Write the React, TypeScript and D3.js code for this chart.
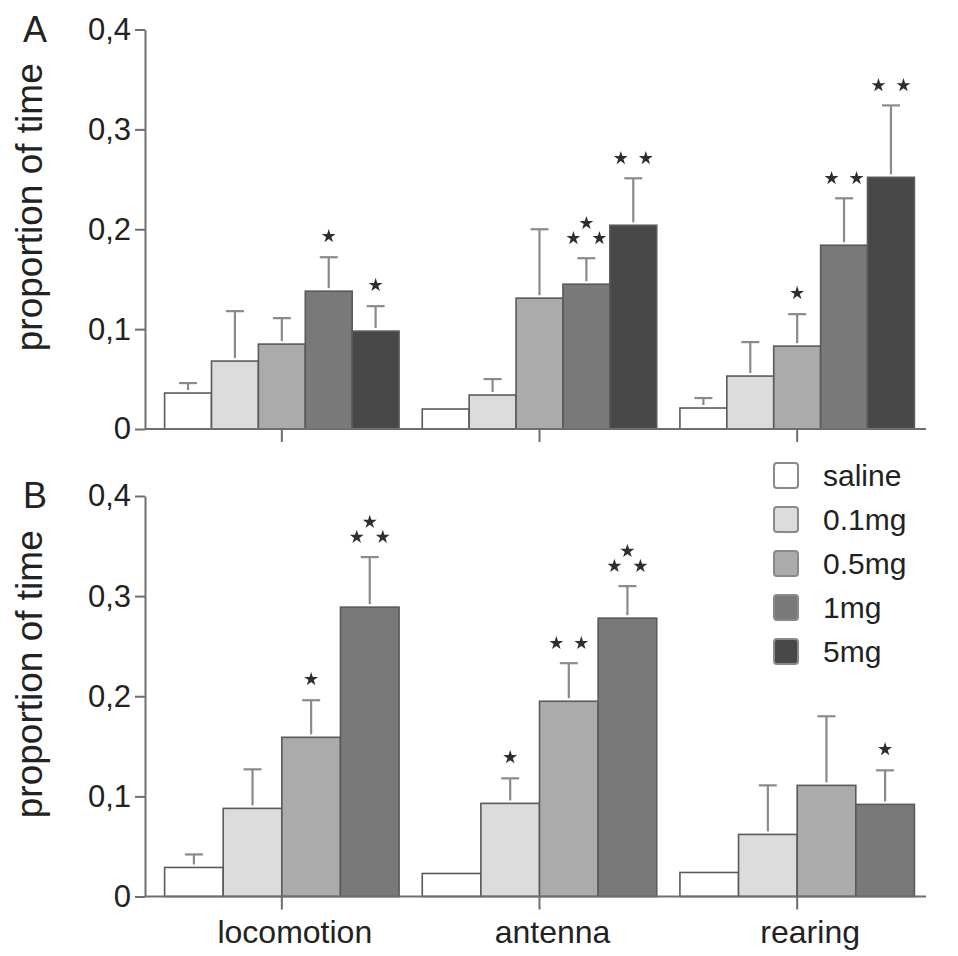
import { useEffect, useRef } from 'react';
import * as d3 from 'd3';

// categories and dose groups
const categories = ['locomotion', 'antenna', 'rearing'];
const dosesA = ['saline', '0.1mg', '0.5mg', '1mg', '5mg'];
const dosesB = ['saline', '0.1mg', '0.5mg', '1mg'];
const legendLabels = ['saline', '0.1mg', '0.5mg', '1mg', '5mg'];
const yTicks = [0, 0.1, 0.2, 0.3, 0.4];

// panel A: means per dose (locomotion, antenna, rearing)
const aSaline = [0.036, 0.020, 0.021];
const a01 = [0.068, 0.034, 0.053];
const a05 = [0.085, 0.131, 0.083];
const a1 = [0.138, 0.145, 0.184];
const a5 = [0.098, 0.204, 0.252];
// panel A: error (SEM)
const aSalineErr = [0.010, 0, 0.010];
const a01Err = [0.050, 0.016, 0.034];
const a05Err = [0.026, 0.069, 0.032];
const a1Err = [0.034, 0.026, 0.047];
const a5Err = [0.025, 0.047, 0.072];
// panel A: number of significance stars
const aSalineSig = [0, 0, 0];
const a01Sig = [0, 0, 0];
const a05Sig = [0, 0, 1];
const a1Sig = [1, 3, 2];
const a5Sig = [1, 2, 2];

// panel B
const bSaline = [0.029, 0.023, 0.024];
const b01 = [0.088, 0.093, 0.062];
const b05 = [0.159, 0.195, 0.111];
const b1 = [0.289, 0.278, 0.092];
const bSalineErr = [0.013, 0, 0];
const b01Err = [0.039, 0.025, 0.049];
const b05Err = [0.037, 0.038, 0.069];
const b1Err = [0.050, 0.032, 0.034];
const bSalineSig = [0, 0, 0];
const b01Sig = [0, 1, 0];
const b05Sig = [1, 2, 0];
const b1Sig = [3, 3, 1];

const FILLS = ['#ffffff', '#dcdcdc', '#ababab', '#797979', '#484848'];
const FONT = '"Liberation Sans", Arial, sans-serif';

type Row = { cat: string; dose: string; value: number; err: number; sig: number };

function buildRows(doses: string[], vals: number[][], errs: number[][], sigs: number[][]): Row[] {
    const rows: Row[] = [];
    categories.forEach((cat, ci) => {
        doses.forEach((dose, di) => {
            rows.push({ cat, dose, value: vals[di][ci], err: errs[di][ci], sig: sigs[di][ci] });
        });
    });
    return rows;
}

const rowsA = buildRows(dosesA, [aSaline, a01, a05, a1, a5],
    [aSalineErr, a01Err, a05Err, a1Err, a5Err], [aSalineSig, a01Sig, a05Sig, a1Sig, a5Sig]);
const rowsB = buildRows(dosesB, [bSaline, b01, b05, b1],
    [bSalineErr, b01Err, b05Err, b1Err], [bSalineSig, b01Sig, b05Sig, b1Sig]);

export default function App() {
    const svgRef = useRef<SVGSVGElement>(null);

    useEffect(() => {
        const svg = d3.select(svgRef.current);
        svg.selectAll('*').remove();

        const axisX = 145;
        const color = d3.scaleOrdinal<string, string>().domain(legendLabels).range(FILLS);
        const x0 = d3.scaleBand().domain(categories).range([153, 926]).paddingInner(0.09).paddingOuter(0.045);

        const drawPanel = (rows: Row[], doses: string[], top: number, bottom: number,
                           letter: string, showLabels: boolean) => {
            const g = svg.append('g');
            const y = d3.scaleLinear().domain([0, 0.4]).range([bottom, top]);
            const x1 = d3.scaleBand().domain(doses).range([0, x0.bandwidth()]);

            // bars
            g.selectAll('.bar')
                .data(rows)
                .enter()
                .append('rect')
                .attr('x', d => x0(d.cat)! + x1(d.dose)!)
                .attr('y', d => y(d.value))
                .attr('width', x1.bandwidth())
                .attr('height', d => y(0) - y(d.value))
                .attr('fill', d => color(d.dose))
                .attr('stroke', '#5a5a5a')
                .attr('stroke-width', 1.6);

            // error bars
            const errRows = rows.filter(d => d.err > 0);
            const cx = (d: Row) => x0(d.cat)! + x1(d.dose)! + x1.bandwidth() / 2;
            g.selectAll('.err')
                .data(errRows)
                .enter()
                .append('line')
                .attr('x1', cx).attr('x2', cx)
                .attr('y1', d => y(d.value) - 3)
                .attr('y2', d => y(d.value + d.err))
                .attr('stroke', '#8a8a8a')
                .attr('stroke-width', 2.2);
            g.selectAll('.cap')
                .data(errRows)
                .enter()
                .append('line')
                .attr('x1', d => cx(d) - 9).attr('x2', d => cx(d) + 9)
                .attr('y1', d => y(d.value + d.err))
                .attr('y2', d => y(d.value + d.err))
                .attr('stroke', '#8a8a8a')
                .attr('stroke-width', 2.2);

            // significance stars
            const star = d3.symbol().type(d3.symbolStar).size(60);
            rows.filter(d => d.sig > 0).forEach(d => {
                const base = y(d.value + d.err);
                let pts: [number, number][] = [];
                if (d.sig === 1) pts = [[0, -21]];
                if (d.sig === 2) pts = [[-12.5, -20], [12.5, -20]];
                if (d.sig === 3) pts = [[-13, -20], [13, -20], [0, -35]];
                pts.forEach(([dx, dy]) => {
                    g.append('path')
                        .attr('d', star()!)
                        .attr('transform', `translate(${cx(d) + dx},${base + dy})`)
                        .attr('fill', '#2e2e2e');
                });
            });

            // x baseline
            g.append('line')
                .attr('x1', axisX).attr('x2', x0.range()[1])
                .attr('y1', y(0)).attr('y2', y(0))
                .attr('stroke', '#6e6e6e')
                .attr('stroke-width', 2);

            // category ticks + labels
            const xAxis = g.append('g')
                .attr('transform', `translate(0,${y(0)})`)
                .call(d3.axisBottom(x0).tickSize(13).tickSizeOuter(0).tickPadding(11));
            xAxis.select('.domain').remove();
            xAxis.selectAll('line').attr('stroke', '#6e6e6e').attr('stroke-width', 2);
            xAxis.selectAll('text')
                .attr('dx', 13)
                .style('font-family', FONT)
                .style('font-size', '32px')
                .style('fill', '#222')
                .style('display', showLabels ? null : 'none');

            // y axis
            const yAxis = g.append('g')
                .attr('transform', `translate(${axisX},0)`)
                .call(d3.axisLeft(y).tickValues(yTicks).tickSize(10).tickSizeOuter(0).tickPadding(4)
                    .tickFormat(d => (+d === 0 ? '0' : (+d).toFixed(1).replace('.', ','))));
            yAxis.select('.domain').attr('stroke', '#6e6e6e').attr('stroke-width', 2);
            yAxis.selectAll('line').attr('stroke', '#6e6e6e').attr('stroke-width', 2);
            yAxis.selectAll('text')
                .style('font-family', FONT)
                .style('font-size', '31px')
                .style('fill', '#222');

            // y title
            g.append('text')
                .attr('transform', `translate(42,${(top + bottom) / 2 - 22}) rotate(-90)`)
                .attr('text-anchor', 'middle')
                .style('font-family', FONT)
                .style('font-size', '37px')
                .style('fill', '#222')
                .text('proportion of time');

            // panel letter
            g.append('text')
                .attr('x', 23)
                .attr('y', top + 12)
                .style('font-family', FONT)
                .style('font-size', '36px')
                .style('fill', '#222')
                .text(letter);
        };

        drawPanel(rowsA, dosesA, 29.5, 429, 'A', false);
        drawPanel(rowsB, dosesB, 496, 896.5, 'B', true);

        // legend
        const legend = svg.append('g').attr('transform', 'translate(774,463)');
        const ly = d3.scaleBand().domain(legendLabels).range([0, 44 * legendLabels.length]);
        const item = legend.selectAll('.item')
            .data(legendLabels)
            .enter()
            .append('g')
            .attr('transform', d => `translate(0,${ly(d)})`);
        item.append('rect')
            .attr('width', 24)
            .attr('height', 25)
            .attr('rx', 3)
            .attr('fill', d => color(d))
            .attr('stroke', '#8a8a8a')
            .attr('stroke-width', 2);
        item.append('text')
            .attr('x', 49)
            .attr('y', 12.5)
            .attr('dy', '0.35em')
            .style('font-family', FONT)
            .style('font-size', '30px')
            .style('fill', '#222')
            .text(d => d);
    }, []);

    return (
        <svg
            ref={svgRef}
            width={958}
            height={956}
            style={{ position: 'absolute', left: 0, top: 0, background: '#fff' }}
        />
    );
}
